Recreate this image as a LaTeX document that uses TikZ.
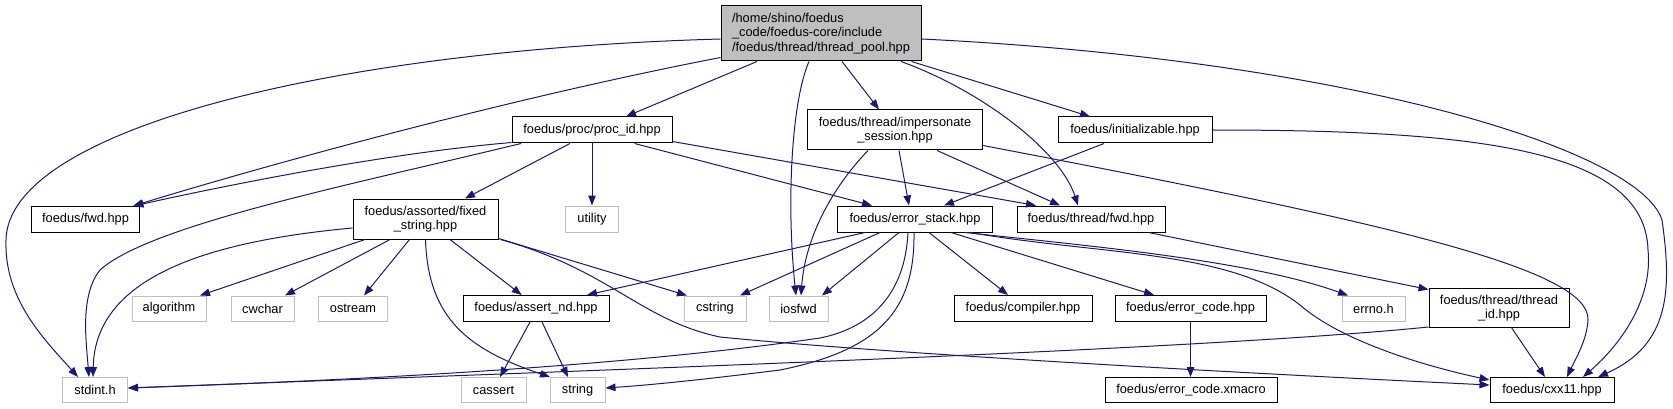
\documentclass[tikz,border=0pt]{standalone}
\usepackage{fontspec}
\setmainfont{Liberation Sans}
\usetikzlibrary{arrows.meta}
\definecolor{edgeblue}{HTML}{191970}
\definecolor{sysgray}{HTML}{BFBFBF}
\newcommand\dxf{\fontsize{12.8}{14.6}\selectfont}
\tikzset{
  base/.style={inner sep=0pt, align=center, font=\dxf, line width=1pt, fill=white},
  proj/.style={base, draw=black},
  sysh/.style={base, draw=sysgray},
  mainbox/.style={base, draw=black, fill=sysgray, align=left},
  dep/.style={draw=edgeblue, line width=1pt, -{Triangle[length=10pt,width=7.5pt]}, edgeblue}
}
\begin{document}
\begin{tikzpicture}[x=1pt,y=-1pt]
\useasboundingbox (0,0) rectangle (1673,409);
% nodes
\node[mainbox, minimum width=200pt, minimum height=55pt] (main) at (821,33.5) {/home/shino/foedus\\\_code/foedus-core/include\\/foedus/thread/thread\_pool.hpp};
\node[proj, minimum width=160pt, minimum height=26pt] (proc) at (592,130) {foedus/proc/proc\_id.hpp};
\node[proj, minimum width=175pt, minimum height=40pt] (imp) at (895,130) {foedus/thread/impersonate\\\_session.hpp};
\node[proj, minimum width=154pt, minimum height=26pt] (init) at (1135,130) {foedus/initializable.hpp};
\node[proj, minimum width=108pt, minimum height=26pt] (fwd) at (85.5,219.5) {foedus/fwd.hpp};
\node[proj, minimum width=145pt, minimum height=40pt] (fixed) at (425.5,219) {foedus/assorted/fixed\\\_string.hpp};
\node[sysh, minimum width=53pt, minimum height=26pt] (utility) at (592,219) {utility};
\node[proj, minimum width=155pt, minimum height=26pt] (estack) at (915,219) {foedus/error\_stack.hpp};
\node[proj, minimum width=148pt, minimum height=26pt] (tfwd) at (1091,219) {foedus/thread/fwd.hpp};
\node[sysh, minimum width=74pt, minimum height=25pt] (algo) at (169,308.5) {algorithm};
\node[sysh, minimum width=63pt, minimum height=25pt] (cwchar) at (262.5,308.5) {cwchar};
\node[sysh, minimum width=69pt, minimum height=25pt] (ostream) at (353,308.5) {ostream};
\node[proj, minimum width=146pt, minimum height=26pt] (assert) at (536,308.5) {foedus/assert\_nd.hpp};
\node[sysh, minimum width=62pt, minimum height=25pt] (cstring) at (715,308.5) {cstring};
\node[sysh, minimum width=59pt, minimum height=25pt] (iosfwd) at (798.5,308.5) {iosfwd};
\node[proj, minimum width=138pt, minimum height=26pt] (compiler) at (1023,308.5) {foedus/compiler.hpp};
\node[proj, minimum width=151pt, minimum height=26pt] (ecode) at (1190.5,308.5) {foedus/error\_code.hpp};
\node[sysh, minimum width=63pt, minimum height=25pt] (errno) at (1373.5,308.5) {errno.h};
\node[proj, minimum width=140pt, minimum height=39pt] (tid) at (1499,308) {foedus/thread/thread\\\_id.hpp};
\node[sysh, minimum width=65pt, minimum height=25pt] (stdint) at (95,390) {stdint.h};
\node[sysh, minimum width=65pt, minimum height=25pt] (cassert) at (493.5,390) {cassert};
\node[sysh, minimum width=55pt, minimum height=25pt] (string) at (577.5,390) {string};
\node[proj, minimum width=172pt, minimum height=25pt] (xmacro) at (1191,390) {foedus/error\_code.xmacro};
\node[proj, minimum width=124pt, minimum height=25pt] (cxx11) at (1552,390) {foedus/cxx11.hpp};
% edges from main
\draw[dep] ([yshift=-5.5pt]main.west) .. controls (330,50) and (8,130) .. (6,240) .. controls (4,300) and (45,340) .. ([xshift=-17pt]stdint.north);
\draw[dep] ([yshift=4pt]main.south west) .. controls (500,100) and (250,170) .. ([xshift=47.5pt]fwd.north);
\draw[dep] ([xshift=-64pt]main.south) -- ([xshift=34pt]proc.north);
\draw[dep] ([xshift=-12pt]main.south) .. controls (792,100) and (786,200) .. ([xshift=-2.5pt]iosfwd.north);
\draw[dep] ([xshift=21pt]main.south) -- ([xshift=-16pt]imp.north);
\draw[dep] ([xshift=80pt]main.south) .. controls (980,90) and (1060,150) .. ([xshift=-13pt]tfwd.north);
\draw[dep] ([xshift=-10pt]main.south east) -- ([xshift=-45pt]init.north);
\draw[dep] ([yshift=-5.5pt]main.east) .. controls (1350,60) and (1640,150) .. (1662,220) .. controls (1672,290) and (1670,345) .. ([xshift=46pt]cxx11.north);
% proc_id
\draw[dep] ([yshift=1pt]proc.south west) .. controls (400,152) and (250,180) .. ([xshift=48pt]fwd.north);
\draw[dep] ([xshift=-71pt]proc.south) .. controls (350,185) and (150,225) .. (100,270) .. controls (80,295) and (86,340) .. ([xshift=-6pt]stdint.north);
\draw[dep] ([xshift=-22pt]proc.south) -- ([xshift=39.5pt]fixed.north);
\draw[dep] (proc.south) -- (utility.north);
\draw[dep] ([xshift=42.6pt]proc.south) -- ([xshift=-43pt]estack.north);
\draw[dep] ([yshift=2pt]proc.south east) -- ([xshift=-55pt]tfwd.north);
% impersonate
\draw[dep] ([xshift=-27pt]imp.south) .. controls (830,190) and (805,240) .. ([xshift=2.5pt]iosfwd.north);
\draw[dep] ([xshift=4pt]imp.south) -- ([xshift=-6pt]estack.north);
\draw[dep] ([xshift=42pt]imp.south) -- ([xshift=-31pt]tfwd.north);
\draw[dep] ([yshift=5pt]imp.south east) .. controls (1400,225) and (1590,270) .. (1588,320) .. controls (1587,340) and (1575,360) .. ([xshift=15pt]cxx11.north);
% initializable
\draw[dep] ([xshift=-31pt]init.south) -- ([xshift=29pt]estack.north);
\draw[dep] (init.east) .. controls (1480,130) and (1645,150) .. (1648,250) .. controls (1653,300) and (1620,345) .. ([xshift=31pt]cxx11.north);
% fixed_string
\draw[dep] ([yshift=-9pt]fixed.west) .. controls (200,242) and (95,280) .. ([xshift=-2pt]stdint.north);
\draw[dep] ([xshift=-60.5pt]fixed.south) -- ([xshift=31pt]algo.north);
\draw[dep] ([xshift=-35.5pt]fixed.south) -- ([xshift=22.5pt]cwchar.north);
\draw[dep] ([xshift=-16pt]fixed.south) -- ([xshift=11pt]ostream.north);
\draw[dep] ([xshift=24.5pt]fixed.south) -- ([xshift=-14.3pt]assert.north);
\draw[dep] (fixed.south) .. controls (428,320) and (470,350) .. ([xshift=-27.5pt]string.north);
\draw[dep] ([yshift=1pt]fixed.south east) -- ([xshift=-28pt]cstring.north);
\draw[dep] ([xshift=2pt]fixed.south east) .. controls (610,270) and (640,320) .. (720,337) .. controls (900,355) and (1300,376) .. ([yshift=5pt]cxx11.west);
% error_stack
\draw[dep] ([xshift=-50pt]estack.south) -- ([xshift=51pt]assert.north);
\draw[dep] ([xshift=-35pt]estack.south) -- ([xshift=25pt]cstring.north);
\draw[dep] ([xshift=-16pt]estack.south) -- ([xshift=23.5pt]iosfwd.north);
\draw[dep] ([xshift=-7pt]estack.south) .. controls (905,295) and (870,328) .. (820,338) .. controls (600,370) and (300,382) .. ([yshift=2pt]stdint.east);
\draw[dep] ([xshift=-1pt]estack.south) .. controls (915,310) and (880,350) .. (780,370) .. controls (700,380) and (650,385) .. ([yshift=2pt]string.east);
\draw[dep] ([xshift=14pt]estack.south) -- ([xshift=-15pt]compiler.north);
\draw[dep] ([xshift=36pt]estack.south) -- ([xshift=-36.5pt]ecode.north);
\draw[dep] ([xshift=50pt]estack.south) .. controls (1080,245) and (1250,260) .. ([xshift=-25.5pt]errno.north);
\draw[dep] ([xshift=55pt]estack.south) .. controls (1100,255) and (1230,250) .. (1300,305) .. controls (1340,340) and (1420,365) .. ([yshift=10pt]cxx11.west);
% others
\draw[dep] ([xshift=57.5pt]tfwd.south) -- ([yshift=-1.5pt]tid.north west);
\draw[dep] ([yshift=1pt]tid.south west) .. controls (1200,350) and (600,370) .. ([yshift=2pt]stdint.east);
\draw[dep] ([xshift=12.7pt]tid.south) -- ([xshift=-7pt]cxx11.north);
\draw[dep] ([xshift=-6pt]assert.south) -- ([xshift=6.5pt]cassert.north);
\draw[dep] ([xshift=6pt]assert.south) -- ([xshift=-9.5pt]string.north);
\draw[dep] (ecode.south) -- (ecode.south |- xmacro.north);
\end{tikzpicture}
\end{document}
